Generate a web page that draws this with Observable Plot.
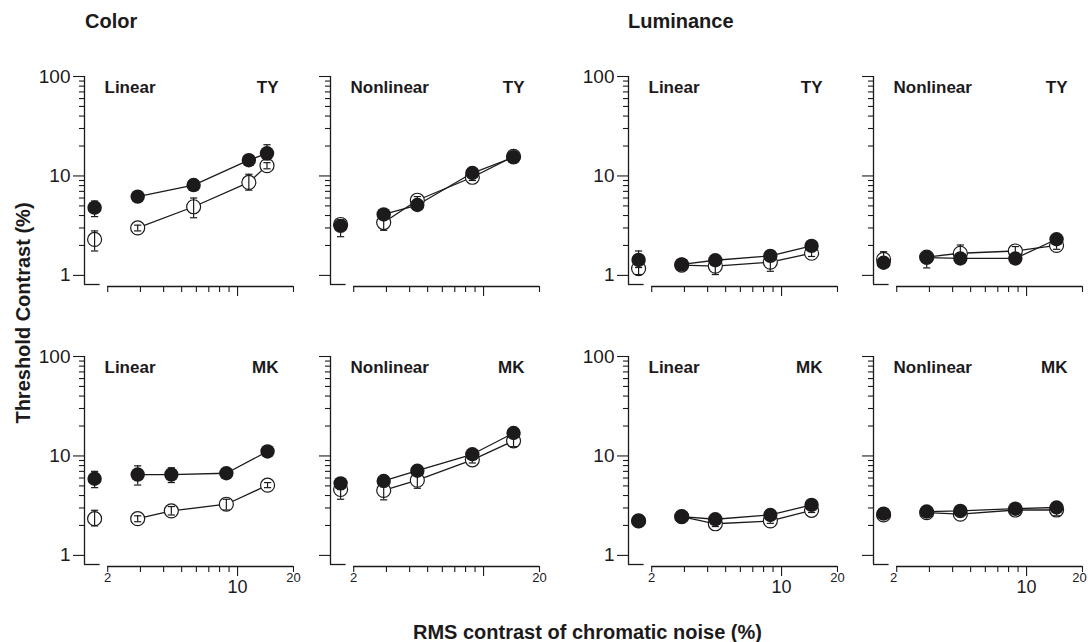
<!DOCTYPE html>
<html>
<head>
<meta charset="utf-8">
<script src="https://cdn.jsdelivr.net/npm/d3@7"></script>
<script src="https://cdn.jsdelivr.net/npm/@observablehq/plot@0.6"></script>
<style>
  body { margin: 0; background: #fff; }
  #chart { position: relative; width: 1088px; height: 642px; overflow: hidden;
           font-family: "Liberation Sans", Arial, Helvetica, sans-serif; }
  #chart svg { position: absolute; }
</style>
</head>
<body>
<div id="chart"></div>
<script>
// ---------- data ----------
// RMS noise contrast (%) of each condition; the first value is the no-noise condition
const noiseX = [1.7, 2.9, 4.4, 8.7, 14.5];
const noiseX_TY_colorLinear = [1.7, 2.9, 5.8, 11.5, 14.4];

// Tick values
const yMajorTicks = [1, 10, 100];
const yMinorTicks = [2, 3, 4, 5, 6, 7, 8, 9, 20, 30, 40, 50, 60, 70, 80, 90];
const xMinorTicks = [2, 3, 4, 5, 6, 7, 8, 9, 20];
const xMajorTicks = [10];
const xSmallLabels = [2, 20];
const xBigLabels = [10];

// Threshold contrast (%) — filled and open symbols, with [low, high] error bars
const TY_colorLinear_filled = [4.8, 6.2, 8.1, 14.4, 16.9];
const TY_colorLinear_filledErr = [[3.9, 5.6], [5.6, 6.9], [7.4, 8.9], [13.2, 15.6], [14.5, 20.6]];
const TY_colorLinear_open = [2.3, 3.0, 4.9, 8.6, 12.7];
const TY_colorLinear_openErr = [[1.76, 2.8], [2.8, 3.2], [3.8, 6.0], [7.2, 10.4], [11.8, 13.6]];

const TY_colorNonlinear_filled = [3.15, 4.1, 5.1, 10.7, 15.4];
const TY_colorNonlinear_filledErr = [[2.45, 3.6], [3.8, 4.5], [4.8, 5.5], [10.0, 11.4], [14.5, 16.4]];
const TY_colorNonlinear_open = [3.25, 3.4, 5.7, 9.7, 15.7];
const TY_colorNonlinear_openErr = [[2.9, 3.6], [2.84, 4.0], [5.3, 6.2], [9.0, 10.4], [15.0, 16.5]];

const TY_lumLinear_filled = [1.43, 1.29, 1.42, 1.57, 1.98];
const TY_lumLinear_filledErr = [[1.2, 1.76], [1.2, 1.38], [1.3, 1.55], [1.45, 1.7], [1.85, 2.1]];
const TY_lumLinear_open = [1.17, 1.27, 1.24, 1.36, 1.67];
const TY_lumLinear_openErr = [[1.02, 1.32], [1.18, 1.36], [1.02, 1.45], [1.1, 1.6], [1.55, 1.8]];

const TY_lumNonlinear_filled = [1.34, 1.51, 1.48, 1.48, 2.31];
const TY_lumNonlinear_filledErr = [[1.25, 1.45], [1.19, 1.65], [1.35, 1.6], [1.35, 1.6], [2.15, 2.5]];
const TY_lumNonlinear_open = [1.45, 1.53, 1.67, 1.76, 2.0];
const TY_lumNonlinear_openErr = [[1.3, 1.73], [1.35, 1.7], [1.45, 2.02], [1.55, 1.95], [1.83, 2.2]];

const MK_colorLinear_filled = [5.9, 6.5, 6.5, 6.7, 11.1];
const MK_colorLinear_filledErr = [[4.8, 7.0], [5.1, 7.95], [5.4, 7.6], [6.0, 7.3], [10.2, 12.0]];
const MK_colorLinear_open = [2.34, 2.34, 2.8, 3.27, 5.08];
const MK_colorLinear_openErr = [[1.98, 2.84], [2.18, 2.5], [2.55, 3.1], [2.86, 3.67], [4.8, 5.4]];

const MK_colorNonlinear_filled = [5.3, 5.6, 7.1, 10.4, 17.0];
const MK_colorNonlinear_filledErr = [[4.6, 6.0], [4.9, 6.3], [6.5, 7.7], [9.6, 11.2], [15.8, 18.2]];
const MK_colorNonlinear_open = [4.6, 4.5, 5.7, 9.15, 14.2];
const MK_colorNonlinear_openErr = [[3.67, 5.4], [3.62, 5.4], [4.73, 6.5], [8.5, 9.9], [12.4, 15.5]];

const MK_lumLinear_filled = [2.22, 2.45, 2.31, 2.55, 3.22];
const MK_lumLinear_filledErr = [[2.1, 2.35], [2.3, 2.6], [2.2, 2.45], [2.4, 2.7], [3.0, 3.45]];
const MK_lumLinear_open = [2.22, 2.45, 2.08, 2.22, 2.84];
const MK_lumLinear_openErr = [[2.1, 2.35], [2.3, 2.6], [1.95, 2.2], [2.1, 2.35], [2.7, 3.0]];

const MK_lumNonlinear_filled = [2.63, 2.76, 2.8, 2.95, 3.03];
const MK_lumNonlinear_filledErr = [[2.45, 2.8], [2.6, 2.9], [2.6, 3.0], [2.8, 3.1], [2.85, 3.2]];
const MK_lumNonlinear_open = [2.55, 2.69, 2.6, 2.86, 2.86];
const MK_lumNonlinear_openErr = [[2.4, 2.7], [2.55, 2.85], [2.45, 2.75], [2.7, 3.0], [2.5, 3.0]];

// ---------- layout ----------
const colAxisX = [84, 330, 628, 873];   // page x of each panel's y axis
const rowTopY = [76, 356];              // page y of the 100% level
const M = {left: 50, right: 20, top: 20, bottom: 45};
const W = 279, H = 273;
const xDomain = [1.5, 20], yDomain = [0.81, 100];
const font = '"Liberation Sans", Arial, Helvetica, sans-serif';
const ink = "#1c1a1b";

const pts = (xs, ys, errs) => xs.map((x, i) => ({x, y: ys[i], lo: errs[i][0], hi: errs[i][1]}));

const panels = [
  {row: 0, col: 0, method: "Linear",    obs: "TY", yLabels: true,  xTen: true,
   filled: pts(noiseX_TY_colorLinear, TY_colorLinear_filled, TY_colorLinear_filledErr),
   open: pts(noiseX_TY_colorLinear, TY_colorLinear_open, TY_colorLinear_openErr)},
  {row: 0, col: 1, method: "Nonlinear", obs: "TY", yLabels: false, xTen: false,
   filled: pts(noiseX, TY_colorNonlinear_filled, TY_colorNonlinear_filledErr),
   open: pts(noiseX, TY_colorNonlinear_open, TY_colorNonlinear_openErr)},
  {row: 0, col: 2, method: "Linear",    obs: "TY", yLabels: true,  xTen: true,
   filled: pts(noiseX, TY_lumLinear_filled, TY_lumLinear_filledErr),
   open: pts(noiseX, TY_lumLinear_open, TY_lumLinear_openErr)},
  {row: 0, col: 3, method: "Nonlinear", obs: "TY", yLabels: false, xTen: true,
   filled: pts(noiseX, TY_lumNonlinear_filled, TY_lumNonlinear_filledErr),
   open: pts(noiseX, TY_lumNonlinear_open, TY_lumNonlinear_openErr)},
  {row: 1, col: 0, method: "Linear",    obs: "MK", yLabels: true,  xTen: true,
   filled: pts(noiseX, MK_colorLinear_filled, MK_colorLinear_filledErr),
   open: pts(noiseX, MK_colorLinear_open, MK_colorLinear_openErr)},
  {row: 1, col: 1, method: "Nonlinear", obs: "MK", yLabels: false, xTen: false,
   filled: pts(noiseX, MK_colorNonlinear_filled, MK_colorNonlinear_filledErr),
   open: pts(noiseX, MK_colorNonlinear_open, MK_colorNonlinear_openErr)},
  {row: 1, col: 2, method: "Linear",    obs: "MK", yLabels: true,  xTen: true,
   filled: pts(noiseX, MK_lumLinear_filled, MK_lumLinear_filledErr),
   open: pts(noiseX, MK_lumLinear_open, MK_lumLinear_openErr)},
  {row: 1, col: 3, method: "Nonlinear", obs: "MK", yLabels: false, xTen: true,
   filled: pts(noiseX, MK_lumNonlinear_filled, MK_lumNonlinear_filledErr),
   open: pts(noiseX, MK_lumNonlinear_open, MK_lumNonlinear_openErr)}
];

// horizontal cap for error bars
const capSymbol = {
  draw(ctx, size) {
    const r = Math.sqrt(size / Math.PI);
    ctx.moveTo(-r, 0);
    ctx.lineTo(r, 0);
  }
};

const errMarks = (data) => [
  Plot.ruleX(data, {x: "x", y1: "lo", y2: "hi", stroke: ink, strokeWidth: 1.2}),
  Plot.dot(data, {x: "x", y: "lo", r: 3.6, symbol: capSymbol, stroke: ink, fill: "none", strokeWidth: 1.2}),
  Plot.dot(data, {x: "x", y: "hi", r: 3.6, symbol: capSymbol, stroke: ink, fill: "none", strokeWidth: 1.2})
];

const chart = document.getElementById("chart");

for (const p of panels) {
  const marks = [
    // y axis line with its short foot, and the separate x axis line
    Plot.ruleX([xDomain[0]], {y1: yDomain[0], y2: yDomain[1], stroke: ink, strokeWidth: 1.3}),
    Plot.ruleY([yDomain[0]], {x1: xDomain[0], x2: 1.82, stroke: ink, strokeWidth: 1.3}),
    Plot.ruleY([yDomain[0]], {x1: 2, x2: 20, dy: 2, stroke: ink, strokeWidth: 1.3}),
    Plot.axisY({ticks: yMinorTicks, tickSize: 5, tickFormat: () => "", label: null, stroke: ink, strokeWidth: 1.1}),
    Plot.axisY({ticks: yMajorTicks, tickSize: 11, tickPadding: 3, fontSize: 19, fill: ink,
                tickFormat: p.yLabels ? (d) => String(d) : () => "", label: null, stroke: ink, strokeWidth: 1.1}),
    Plot.axisX({ticks: xMinorTicks, tickSize: 6, dy: 2, tickFormat: () => "", label: null, stroke: ink, strokeWidth: 1.1}),
    Plot.axisX({ticks: xMajorTicks, tickSize: 10, dy: 2, tickFormat: () => "", label: null, stroke: ink, strokeWidth: 1.1}),
    Plot.text([p.method], {text: (d) => d, frameAnchor: "top-left", dx: 20, dy: 16.5, lineAnchor: "bottom",
                           textAnchor: "start", fontWeight: "bold", fontSize: 17, fill: ink}),
    Plot.text([p.obs], {text: (d) => d, frameAnchor: "top-right", dx: -15, dy: 16.5, lineAnchor: "bottom",
                        textAnchor: "end", fontWeight: "bold", fontSize: 17, fill: ink}),
    Plot.line(p.filled.slice(1), {x: "x", y: "y", stroke: ink, strokeWidth: 1.3}),
    Plot.line(p.open.slice(1), {x: "x", y: "y", stroke: ink, strokeWidth: 1.3}),
    Plot.dot(p.open, {x: "x", y: "y", r: 7, fill: "white", stroke: ink, strokeWidth: 1.2}),
    ...errMarks(p.open),
    ...errMarks(p.filled),
    Plot.dot(p.filled, {x: "x", y: "y", r: 7.2, fill: ink, stroke: "none"})
  ];
  if (p.row === 1) {
    // the last panel's labels are nudged so "20" stays inside the page edge
    const edgeShift = p.col === 3 ? -3 : 0;
    marks.push(Plot.text(xSmallLabels, {x: (d) => d, text: (d) => String(d), frameAnchor: "bottom",
                                        dy: 17, dx: edgeShift, fontSize: 13, fill: ink}));
    if (p.xTen) marks.push(Plot.text(xBigLabels, {x: (d) => d, text: (d) => String(d), frameAnchor: "bottom",
                                                  dy: 28.5, fontSize: 18, fill: ink}));
  }
  const svg = Plot.plot({
    width: W, height: H,
    marginLeft: M.left, marginRight: M.right, marginTop: M.top, marginBottom: M.bottom,
    x: {type: "log", domain: xDomain},
    y: {type: "log", domain: yDomain},
    style: {fontFamily: font, background: "transparent", overflow: "visible", color: ink},
    marks
  });
  svg.style.position = "absolute";
  svg.style.left = (colAxisX[p.col] - M.left) + "px";
  svg.style.top = (rowTopY[p.row] - M.top) + "px";
  chart.appendChild(svg);
}

// ---------- page titles ----------
const overlay = d3.create("svg")
  .attr("width", 1088).attr("height", 642)
  .style("left", "0px").style("top", "0px")
  .style("pointer-events", "none")
  .style("font-family", font)
  .style("font-weight", "bold")
  .style("font-size", "20px")
  .attr("fill", ink);
overlay.append("text").attr("x", 85).attr("y", 28).text("Color");
overlay.append("text").attr("x", 628).attr("y", 28).text("Luminance");
overlay.append("text").attr("text-anchor", "middle")
  .attr("transform", "translate(29.5,313) rotate(-90)").text("Threshold Contrast (%)");
overlay.append("text").attr("x", 413).attr("y", 639).text("RMS contrast of chromatic noise (%)");
chart.appendChild(overlay.node());
</script>
</body>
</html>
